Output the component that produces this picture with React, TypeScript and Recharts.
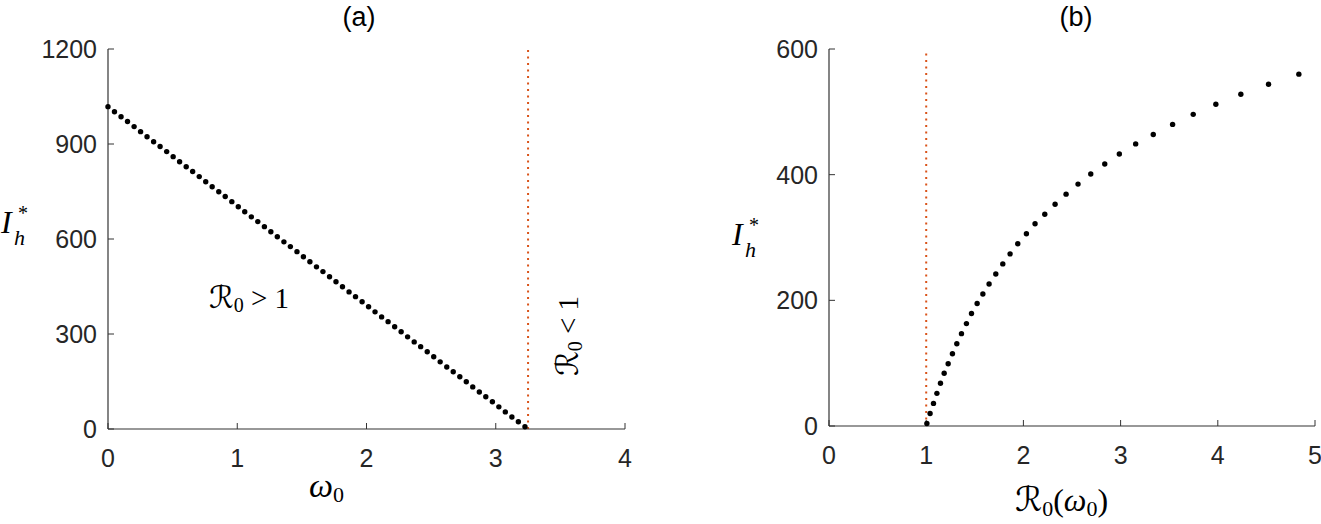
import React from 'react';
import { ScatterChart, Scatter, XAxis, YAxis, ReferenceLine } from 'recharts';

// (a) omega_0 against the endemic value I_h*
const omegaA = [
  0, 0.05, 0.101, 0.151, 0.202, 0.252, 0.302, 0.353, 0.403, 0.454,
  0.504, 0.554, 0.605, 0.655, 0.706, 0.756, 0.806, 0.857, 0.907, 0.958,
  1.008, 1.058, 1.109, 1.159, 1.21, 1.26, 1.31, 1.361, 1.411, 1.462,
  1.512, 1.562, 1.613, 1.663, 1.714, 1.764, 1.814, 1.865, 1.915, 1.966,
  2.016, 2.066, 2.117, 2.167, 2.218, 2.268, 2.318, 2.369, 2.419, 2.47,
  2.52, 2.57, 2.621, 2.671, 2.722, 2.772, 2.822, 2.873, 2.923, 2.974,
  3.024, 3.074, 3.125, 3.175, 3.226,
];
const ihA = [
  1018, 1002, 986, 971, 955, 939, 923, 907, 892, 876,
  860, 844, 828, 813, 797, 781, 765, 749, 734, 718,
  702, 686, 670, 655, 639, 623, 607, 591, 576, 560,
  544, 528, 512, 497, 481, 465, 449, 433, 418, 402,
  386, 370, 354, 339, 323, 307, 291, 275, 260, 244,
  228, 212, 196, 181, 165, 149, 133, 117, 102, 86,
  70, 54, 38, 23, 7,
];

// (b) R0(omega_0) against I_h*
const r0B = [
  1.007, 1.04, 1.075, 1.11, 1.147, 1.185, 1.226, 1.27, 1.315, 1.363,
  1.414, 1.466, 1.524, 1.583, 1.647, 1.716, 1.788, 1.863, 1.942, 2.031,
  2.12, 2.22, 2.326, 2.439, 2.562, 2.693, 2.837, 2.987, 3.155, 3.336,
  3.535, 3.747, 3.98, 4.237, 4.522, 4.834,
];
const ihB = [
  4, 20, 36, 52, 68, 84, 99, 115, 131, 147,
  163, 179, 195, 210, 226, 242, 258, 274, 290, 306,
  322, 337, 353, 369, 385, 401, 417, 433, 449, 464,
  480, 496, 512, 528, 544, 560,
];

const xTicksA = [0, 1, 2, 3, 4];
const yTicksA = [0, 300, 600, 900, 1200];
const xTicksB = [0, 1, 2, 3, 4, 5];
const yTicksB = [0, 200, 400, 600];

const thresholdA = 3.25; // omega_0 where R0 = 1
const thresholdB = 1;

const dataA = omegaA.map((x, i) => ({ x, y: ihA[i] }));
const dataB = r0B.map((x, i) => ({ x, y: ihB[i] }));

const SANS = '"Liberation Sans", Arial, Helvetica, sans-serif';
const SERIF = '"Liberation Serif", "DejaVu Serif", serif';
const CAL = '"DejaVu Serif", "DejaVu Sans", serif';

const tickFont = { fontSize: 25, fontFamily: SANS, fill: '#262626' };
const frame = { stroke: '#333', strokeWidth: 1.2 };
const tickLn = { stroke: '#333', strokeWidth: 1 };

const Dot = (props: any) => <circle cx={props.cx} cy={props.cy} r={2.7} fill="#000" />;

// MATLAB-style box: inward ticks on all four sides
const Frame = ({ xDomain, yDomain, xTicks, yTicks }: any) => [
  <XAxis key="xb" type="number" dataKey="x" domain={xDomain} ticks={xTicks} interval={0}
    height={60} tickSize={-6} tickMargin={26} axisLine={frame} tickLine={tickLn} tick={tickFont} />,
  <XAxis key="xt" xAxisId="top" orientation="top" type="number" domain={xDomain} ticks={xTicks}
    interval={0} height={0} tickSize={-6} axisLine={frame} tickLine={tickLn} tick={false} />,
  <YAxis key="yl" type="number" dataKey="y" domain={yDomain} ticks={yTicks} interval={0}
    width={100} tickSize={-6} tickMargin={17} axisLine={frame} tickLine={tickLn} tick={tickFont} />,
  <YAxis key="yr" yAxisId="right" orientation="right" type="number" domain={yDomain} ticks={yTicks}
    interval={0} width={0} tickSize={-6} axisLine={frame} tickLine={tickLn} tick={false} />,
];

// I_h^* as one text element: star raised, h lowered under it
const YLabel = ({ x, y }: { x: number; y: number }) => (
  <text x={x} y={y} fontFamily={SERIF} fontSize={32} fontStyle="italic" fill="#000">
    I
    <tspan x={x + 17} dy={-13} fontSize={20} fontStyle="normal">*</tspan>
    <tspan x={x + 13} dy={25} fontSize={22}>h</tspan>
  </text>
);

export default function App() {
  return (
    <div style={{ position: 'absolute', left: 0, top: 0, width: 1321, height: 524, background: '#fff' }}>
      <div style={{ position: 'absolute', left: 0, top: 0 }}>
        <ScatterChart width={660} height={524} margin={{ top: 49, right: 35, bottom: 35, left: 8 }}>
          {Frame({ xDomain: [0, 4], yDomain: [0, 1200], xTicks: xTicksA, yTicks: yTicksA })}
          <ReferenceLine x={thresholdA} stroke="#D95319" strokeWidth={2} strokeDasharray="2 4.5" />
          <Scatter data={dataA} shape={Dot} isAnimationActive={false} />
        </ScatterChart>
      </div>
      <div style={{ position: 'absolute', left: 700, top: 0 }}>
        <ScatterChart width={621} height={524} margin={{ top: 49, right: 6, bottom: 38, left: 29 }}>
          {Frame({ xDomain: [0, 5], yDomain: [0, 600], xTicks: xTicksB, yTicks: yTicksB })}
          <ReferenceLine x={thresholdB} stroke="#D95319" strokeWidth={2} strokeDasharray="2 4.5" />
          <Scatter data={dataB} shape={Dot} isAnimationActive={false} />
        </ScatterChart>
      </div>

      <svg width={1321} height={524} style={{ position: 'absolute', left: 0, top: 0, pointerEvents: 'none' }}>
        <text x={359} y={26} textAnchor="middle" fontSize={27} fontFamily={SANS} fill="#000">(a)</text>
        <text x={1076} y={26} textAnchor="middle" fontSize={27} fontFamily={SANS} fill="#000">(b)</text>

        <YLabel x={1} y={233} />
        <YLabel x={732} y={245} />

        <text x={309} y={497} fontSize={34} fontFamily={SERIF} fill="#000">
          <tspan fontStyle="italic">ω</tspan>
          <tspan fontSize={22} dy={5}>0</tspan>
        </text>

        <text x={1015} y={511} fontSize={32} fontFamily={SERIF} fill="#000">
          <tspan fontFamily={CAL} fontSize={34}>ℛ</tspan>
          <tspan fontSize={22} dy={5}>0</tspan>
          <tspan dy={-5}>(</tspan>
          <tspan fontStyle="italic">ω</tspan>
          <tspan fontSize={22} dy={5}>0</tspan>
          <tspan dy={-5}>)</tspan>
        </text>

        <text x={209} y={308} fontSize={29} fontFamily={SERIF} fill="#000">
          <tspan fontFamily={CAL} fontSize={31}>ℛ</tspan>
          <tspan fontSize={20} dy={4}>0</tspan>
          <tspan dy={-4}> &gt; 1</tspan>
        </text>

        <text transform="translate(578,336) rotate(-90)" textAnchor="middle" fontSize={29} fontFamily={SERIF} fill="#000">
          <tspan fontFamily={CAL} fontSize={31}>ℛ</tspan>
          <tspan fontSize={20} dy={4}>0</tspan>
          <tspan dy={-4}> &lt; 1</tspan>
        </text>
      </svg>
    </div>
  );
}
